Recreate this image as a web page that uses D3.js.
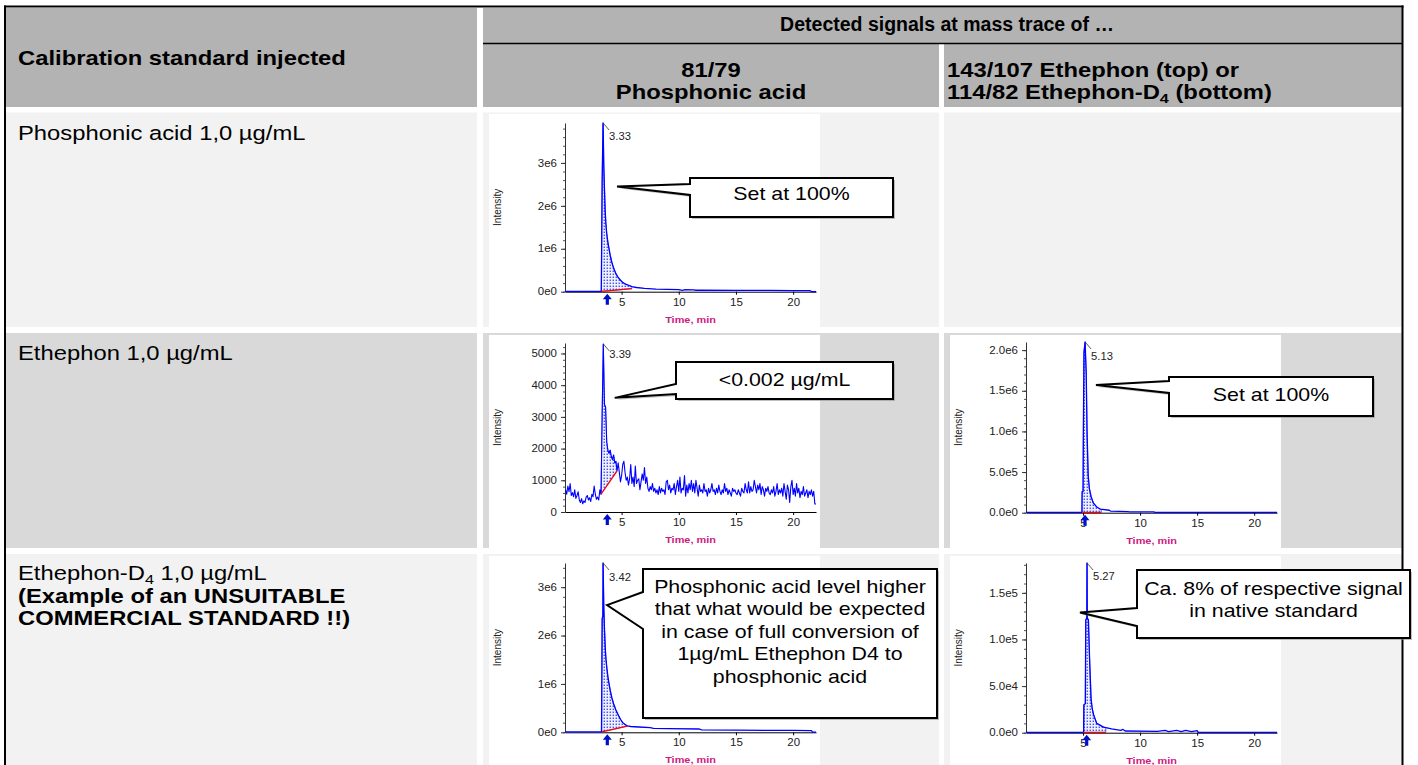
<!DOCTYPE html>
<html><head><meta charset="utf-8">
<script src="https://cdn.jsdelivr.net/npm/d3@7"></script>
<style>html,body{margin:0;padding:0;background:#fff;} svg{display:block;font-family:"Liberation Sans",Arial,sans-serif;}</style>
</head><body><svg id="c" width="1418" height="765"></svg>
<script>
// ---------------- DATA ----------------
const headerLeft = "Calibration standard injected";
const headerTop = "Detected signals at mass trace of …";
const traceAHeader = ["81/79", "Phosphonic acid"];
const traceBHeader = ["143/107 Ethephon (top) or", "114/82 Ethephon-D_4 (bottom)"];
const standards = ["Phosphonic acid 1,0 µg/mL", "Ethephon 1,0 µg/mL", "Ethephon-D_4 1,0 µg/mL"];
const standardNote = ["(Example of an UNSUITABLE", "COMMERCIAL STANDARD !!)"];

const xTicks = [5, 10, 15, 20];
const xTickLabels = ["5", "10", "15", "20"];
const xTitle = "Time, min";
const yTitle = "Intensity";

// chart 1: phosphonic acid standard, 81/79
const phosStdTrace = [[0.05,8000],[3.0,9000],[3.22,10000],[3.24,520000],[3.3,2570000],[3.38,3930000],[3.44,2960000],[3.5,2400000],[3.56,1900000],[3.62,1600000],[3.7,1350000],[3.8,1150000],[3.9,1000000],[4.0,850000],[4.15,680000],[4.3,550000],[4.5,420000],[4.7,330000],[5.0,240000],[5.3,180000],[5.6,150000],[5.9,120000],[6.3,98000],[7.0,78000],[8.0,62000],[9.0,53000],[10.0,47000],[10.3,30000],[10.5,45000],[11.3,42000],[11.5,34000],[12.0,38000],[15.0,33000],[18.0,29000],[20.0,27000],[21.5,23000],[21.6,3000],[22.0,3000]];
const phosStdBase = [[3.24,8000],[5.9,70000]];
const phosStdYTicks = [0, 1e6, 2e6, 3e6];
const phosStdYLabels = ["0e0", "1e6", "2e6", "3e6"];

// chart 2: ethephon standard, 81/79 (noisy trace, 0.1 min sampling from 0.1 min)
const ethStdNoise = [
 700,560,820,640,900,520,610,480,700,430,
 520,640,380,300,420,260,350,300,470,520,
 380,450,330,560,480,820,560,400,470,380,
 700,560,3100,5300,3400,3300,2200,1950,1850,1950,
 1750,1650,1800,1550,1600,1300,1550,1250,950,1150,
 1500,1600,1250,1000,1100,850,1050,1500,900,1100,
 800,1450,900,1000,1050,700,950,1200,1000,1400,
 900,1100,750,650,800,700,900,650,750,600,
 700,550,800,600,750,650,700,550,950,1000,
 700,850,600,750,700,900,550,800,1000,650,
 1100,600,750,700,1150,500,850,600,900,700,
 1000,650,900,600,1000,750,500,850,650,700,
 600,900,650,700,500,750,600,700,900,650,
 700,550,750,600,850,650,550,700,600,900,
 650,750,550,700,600,500,750,650,700,600,
 550,700,600,500,750,650,600,900,700,600,
 950,600,800,650,700,1000,800,600,850,700,
 900,550,800,700,500,750,650,800,600,550,
 700,600,800,500,650,900,550,700,600,750,
 500,900,650,400,850,700,300,800,1000,550,
 750,500,900,600,750,450,650,550,800,500,
 600,700,450,650,550,700,500,650,250,250];
const ethStdNoiseStart = 0.1, ethStdNoiseStep = 0.1;
const ethStdBase = [[3.2,560],[4.6,1300]];
const ethStdYTicks = [0, 1000, 2000, 3000, 4000, 5000];
const ethStdYLabels = ["0", "1000", "2000", "3000", "4000", "5000"];

// chart 3: ethephon standard, 143/107
const ethNatTrace = [[0,3000],[4.85,3000],[4.9,10000],[4.92,260000],[5.0,260000],[5.03,1000000],[5.08,1970000],[5.18,2100000],[5.28,1700000],[5.35,1000000],[5.45,460000],[5.55,300000],[5.7,200000],[5.9,120000],[6.2,70000],[6.5,45000],[7.3,30000],[7.4,20000],[9.0,12000],[11.2,10000],[11.3,3000],[22,3000]];
const ethNatBase = [[4.92,3000],[6.6,3000]];
const ethNatYTicks = [0, 5e5, 1e6, 1.5e6, 2e6];
const ethNatYLabels = ["0.0e0", "5.0e5", "1.0e6", "1.5e6", "2.0e6"];

// chart 4: ethephon-D4 standard, 81/79
const d4PhosTrace = [[0.05,8000],[3.0,9000],[3.24,10000],[3.26,600000],[3.3,2350000],[3.36,2400000],[3.38,3500000],[3.44,2620000],[3.5,2150000],[3.56,1800000],[3.62,1550000],[3.7,1350000],[3.8,1150000],[3.9,1000000],[4.0,870000],[4.15,710000],[4.3,590000],[4.5,460000],[4.7,360000],[4.9,270000],[5.1,200000],[5.3,160000],[5.5,135000],[5.8,120000],[6.5,110000],[7.5,95000],[7.8,80000],[9.0,75000],[11.8,68000],[12.0,50000],[15.0,45000],[20.0,38000],[21.6,35000],[21.7,5000],[22.0,5000]];
const d4PhosBase = [[3.26,8000],[5.5,130000]];
const d4PhosYTicks = [0, 1e6, 2e6, 3e6];
const d4PhosYLabels = ["0e0", "1e6", "2e6", "3e6"];

// chart 5: ethephon-D4 standard, 114/82
const d4EthTrace = [[0,300],[5.0,300],[5.05,800],[5.07,30000],[5.2,31000],[5.24,121000],[5.33,123000],[5.35,182000],[5.37,123000],[5.47,121000],[5.57,80000],[5.7,37000],[5.8,26000],[5.93,19000],[6.2,10000],[6.8,6000],[7.5,4000],[8.3,2500],[8.5,3500],[8.7,1800],[11.5,1500],[12.2,2500],[12.5,1200],[13.2,2600],[13.6,1200],[14.0,2400],[14.5,1200],[15.0,2200],[15.1,300],[22,300]];
const d4EthBase = [[5.05,300],[7.0,300]];
const d4EthYTicks = [0, 5e4, 1e5, 1.5e5];
const d4EthYLabels = ["0.0e0", "5.0e4", "1.0e5", "1.5e5"];

const peakLabels = ["3.33", "3.39", "5.13", "3.42", "5.27"];
const calloutTexts = [
  ["Set at 100%"],
  ["<0.002 µg/mL"],
  ["Set at 100%"],
  ["Phosphonic acid level higher", "that what would be expected", "in case of full conversion of", "1µg/mL Ethephon D4 to", "phosphonic acid"],
  ["Ca. 8% of respective signal", "in native standard"]
];
// ---------------- LAYOUT / DRAW ----------------
const SX = 1.22;
const svg = d3.select("#c");
const defs = svg.append("defs");
const pat = defs.append("pattern").attr("id","dots").attr("width",3).attr("height",3).attr("patternUnits","userSpaceOnUse");
pat.append("rect").attr("width",3).attr("height",3).attr("fill","#eef0ff");
pat.append("rect").attr("x",0.6).attr("y",0.6).attr("width",1.3).attr("height",1.3).attr("fill","#2233ee");

function stext(parent, x, y, str, o) {
  const size = o.size || 19.5;
  const sx = o.sx || SX;
  const g = parent.append("g").attr("transform", `translate(${x},${y}) scale(${sx},1)` + (o.rot ? " rotate(-90)" : ""));
  const t = g.append("text").attr("font-size", size).attr("font-weight", o.weight || "normal")
    .attr("text-anchor", o.anchor || "start").attr("fill", o.fill || "#000");
  if (o.dy) t.attr("dy", o.dy);
  let shifted = false;
  str.split(/(_\d)/).forEach(p => {
    if (!p) return;
    if (p[0] === "_") {
      t.append("tspan").attr("font-size", size * 0.68).attr("dy", size * 0.22).text(p.slice(1));
      shifted = true;
    } else {
      t.append("tspan").attr("dy", shifted ? -size * 0.22 : 0).text(p);
      shifted = false;
    }
  });
  return t;
}

// table backgrounds
const HEAD = "#b3b3b3";
const tb = svg.append("g");
tb.append("rect").attr("x",6).attr("y",8).attr("width",471).attr("height",99).attr("fill",HEAD);
tb.append("rect").attr("x",483).attr("y",8).attr("width",919).attr("height",99).attr("fill",HEAD);
tb.append("rect").attr("x",939).attr("y",44).attr("width",5).attr("height",63).attr("fill","#fff");
tb.append("line").attr("x1",483).attr("x2",1402).attr("y1",43.5).attr("y2",43.5).attr("stroke","#000").attr("stroke-width",1.4);
const rows = [{y:112.5,h:214.5,fill:"#f2f2f2"},{y:333,h:215,fill:"#d9d9d9"},{y:554,h:211,fill:"#f2f2f2"}];
const cols = [{x:6,w:471},{x:483,w:456},{x:944,w:458}];
rows.forEach(r => cols.forEach(c => tb.append("rect").attr("x",c.x).attr("y",r.y).attr("width",c.w).attr("height",r.h).attr("fill",r.fill)));

// header texts
stext(tb, 18, 65, headerLeft, {weight:"bold"});
stext(tb, 947, 31, headerTop, {weight:"bold", anchor:"middle", sx:1.0});
stext(tb, 711, 77, traceAHeader[0], {weight:"bold", anchor:"middle"});
stext(tb, 711, 99, traceAHeader[1], {weight:"bold", anchor:"middle"});
stext(tb, 947, 77, traceBHeader[0], {weight:"bold"});
stext(tb, 947, 99, traceBHeader[1], {weight:"bold"});
// row labels
stext(tb, 18, 140, standards[0], {});
stext(tb, 18, 360, standards[1], {});
stext(tb, 18, 580, standards[2], {});
stext(tb, 18, 603, standardNote[0], {weight:"bold"});
stext(tb, 18, 625, standardNote[1], {weight:"bold"});

// chart configs
const charts = [
  {panel:[489,114,331,213], plot:{l:565,r:816,t:123,b:291.7}, xDomain:[0.05,22], yMax:3.93e6, minor:2e5, lw:1.3,
   trace:phosStdTrace, base:phosStdBase, yTicks:phosStdYTicks, yLabels:phosStdYLabels, arrowT:3.75, labelDy:17,
   callout:{tip:[4.6,2.45e6], box:{x:690,y:178,w:203,h:39,p1:184,p2:195}, baselines:[200]}},
  {panel:[489,335,331,213], plot:{l:565,r:816,t:343,b:512}, xDomain:[0.05,22], yMax:5330, minor:200, lw:1.1,
   trace:ethStdNoise.map((v,i)=>[ethStdNoiseStart + i*ethStdNoiseStep, v]), base:ethStdBase, yTicks:ethStdYTicks, yLabels:ethStdYLabels, arrowT:3.75, labelDy:14,
   callout:{tip:[4.4,3600], box:{x:676,y:362,w:217,h:37,p1:384,p2:394}, baselines:[385.5]}},
  {panel:[950,335,331,213], plot:{l:1026,r:1277,t:342,b:512.7}, xDomain:[0,22], yMax:2.1e6, minor:1e5, lw:1.3,
   trace:ethNatTrace, base:ethNatBase, yTicks:ethNatYTicks, yLabels:ethNatYLabels, arrowT:5.17, labelDy:18,
   callout:{tip:[6.13,1.57e6], box:{x:1169,y:377,w:204,h:39,p1:381,p2:393}, baselines:[401]}},
  {panel:[489,556,331,209], plot:{l:565,r:816,t:563,b:732.3}, xDomain:[0.05,22], yMax:3.5e6, minor:2e5, lw:1.3,
   trace:d4PhosTrace, base:d4PhosBase, yTicks:d4PhosYTicks, yLabels:d4PhosYLabels, arrowT:3.75, labelDy:18,
   callout:{tip:[3.72,2.63e6], box:{x:643,y:569,w:294,h:149,p1:592,p2:629}, baselines:[592.5,615,637.5,660,682.5]}},
  {panel:[950,556,331,209], plot:{l:1026,r:1277,t:563,b:732.7}, xDomain:[0,22], yMax:1.82e5, minor:1e4, lw:1.3,
   trace:d4EthTrace, base:d4EthBase, yTicks:d4EthYTicks, yLabels:d4EthYLabels, arrowT:5.32, labelDy:17,
   callout:{tip:[4.73,1.29e5], box:{x:1137,y:570,w:273,h:68,p1:608,p2:626}, baselines:[594.5,617]}}
];

const calloutLayer = [];
charts.forEach((c, ci) => {
  const g = svg.append("g");
  g.append("rect").attr("x",c.panel[0]).attr("y",c.panel[1]).attr("width",c.panel[2]).attr("height",c.panel[3]).attr("fill","#fff");
  const x = d3.scaleLinear().domain(c.xDomain).range([c.plot.l, c.plot.r]);
  const y = d3.scaleLinear().domain([0, c.yMax]).range([c.plot.b, c.plot.t]);

  // axes
  const ym = g.append("g").attr("transform",`translate(${c.plot.l},0)`)
    .call(d3.axisLeft(y).tickValues(d3.range(0, c.yMax, c.minor)).tickSize(2).tickFormat(""));
  ym.select(".domain").remove();
  ym.selectAll("line").attr("stroke","#555");
  const ya = g.append("g").attr("transform",`translate(${c.plot.l},0)`)
    .call(d3.axisLeft(y).tickValues(c.yTicks).tickFormat((d,i)=>c.yLabels[i]).tickSize(4).tickPadding(3).tickSizeOuter(0));
  ya.select(".domain").attr("stroke","#333");
  ya.selectAll("line").attr("stroke","#333");
  ya.selectAll("text").attr("transform",`scale(1.15,1)`).attr("font-size",10).attr("font-family","Liberation Sans, Arial, sans-serif").attr("fill","#222");
  const xa = g.append("g").attr("transform",`translate(0,${c.plot.b})`)
    .call(d3.axisBottom(x).tickValues(xTicks).tickFormat((d,i)=>xTickLabels[i]).tickSize(3).tickPadding(4).tickSizeOuter(0));
  xa.select(".domain").attr("stroke","#000");
  xa.selectAll("text").attr("transform",`scale(1.15,1)`).attr("font-size",10).attr("font-family","Liberation Sans, Arial, sans-serif").attr("fill","#222");

  stext(g, (c.plot.l + c.plot.r) / 2, c.plot.b + 31, xTitle, {size:9.5, weight:"bold", anchor:"middle", fill:"#cc2080", sx:1.15});
  stext(g, c.plot.l - 64, (c.plot.t + c.plot.b) / 2, yTitle, {size:10, anchor:"middle", fill:"#222", rot:true, dy:"0.35em", sx:1.15});

  // integration (hatched) area
  const [b0, b1] = c.base;
  const baseAt = t => b0[1] + (b1[1] - b0[1]) * (t - b0[0]) / (b1[0] - b0[0]);
  const interp = t => {
    const tr = c.trace;
    for (let i = 1; i < tr.length; i++) {
      if (tr[i][0] >= t) {
        const a = tr[i-1], b = tr[i];
        return a[1] + (b[1] - a[1]) * (t - a[0]) / (b[0] - a[0] || 1);
      }
    }
    return tr[tr.length-1][1];
  };
  const areaPts = [[b0[0], interp(b0[0])]].concat(c.trace.filter(d => d[0] > b0[0] && d[0] < b1[0]), [[b1[0], interp(b1[0])]]);
  g.append("path").datum(areaPts)
    .attr("d", d3.area().x(d => x(d[0])).y0(d => y(baseAt(d[0]))).y1(d => y(Math.max(d[1], baseAt(d[0])))))
    .attr("fill","url(#dots)").attr("stroke","#3344ff").attr("stroke-width",0.7);

  // trace
  g.append("path").datum(c.trace)
    .attr("d", d3.line().x(d => x(d[0])).y(d => y(d[1])))
    .attr("fill","none").attr("stroke","#0000ff").attr("stroke-width",c.lw).attr("stroke-linejoin","round");

  // baseline
  g.append("line").attr("x1",x(b0[0])).attr("y1",y(b0[1])).attr("x2",x(b1[0])).attr("y2",y(b1[1]))
    .attr("stroke","#ff0000").attr("stroke-width",1.3);

  // peak label
  const peak = c.trace.reduce((m, d) => d[1] > m[1] ? d : m, c.trace[0]);
  const px = x(peak[0]), py = y(peak[1]);
  g.append("line").attr("x1",px).attr("y1",py).attr("x2",px+6).attr("y2",py+7).attr("stroke","#333").attr("stroke-width",0.8);
  stext(g, px + 6, py + c.labelDy, peakLabels[ci], {size:10, fill:"#222", sx:1.12});

  // arrow under axis
  const ax = x(c.arrowT), ab = c.plot.b;
  g.append("path").attr("d", `M${ax},${ab+2} L${ax+4.5},${ab+7.5} L${ax+1.6},${ab+7.5} L${ax+1.6},${ab+13} L${ax-1.6},${ab+13} L${ax-1.6},${ab+7.5} L${ax-4.5},${ab+7.5} Z`)
    .attr("fill","#0010c8");

  calloutLayer.push({c, x, y, ci});
});

// outer border
const bd = svg.append("g");
bd.append("line").attr("x1",4).attr("x2",1403.5).attr("y1",6.5).attr("y2",6.5).attr("stroke","#000").attr("stroke-width",2);
bd.append("line").attr("x1",5).attr("x2",5).attr("y1",5.5).attr("y2",765).attr("stroke","#000").attr("stroke-width",2);
bd.append("line").attr("x1",1402.5).attr("x2",1402.5).attr("y1",5.5).attr("y2",765).attr("stroke","#000").attr("stroke-width",2);

// callouts
calloutLayer.forEach(({c, x, y, ci}) => {
  const co = c.callout, b = co.box;
  const tip = [x(co.tip[0]), y(co.tip[1])];
  const pts = [tip, [b.x, b.p1], [b.x, b.y], [b.x + b.w, b.y], [b.x + b.w, b.y + b.h], [b.x, b.y + b.h], [b.x, b.p2]];
  const line = d3.line().curve(d3.curveLinearClosed);
  svg.append("path").attr("d", line(pts.map(p => [p[0] + 2, p[1] + 2]))).attr("fill","#8a8a8a").attr("opacity",0.55);
  svg.append("path").attr("d", line(pts)).attr("fill","#fff").attr("stroke","#000").attr("stroke-width",2).attr("stroke-linejoin","miter");
  const cx = b.x + b.w / 2;
  calloutTexts[ci].forEach((s, i) => stext(svg, cx, co.baselines[i], s, {size:17.5, anchor:"middle"}));
});
</script></body></html>
